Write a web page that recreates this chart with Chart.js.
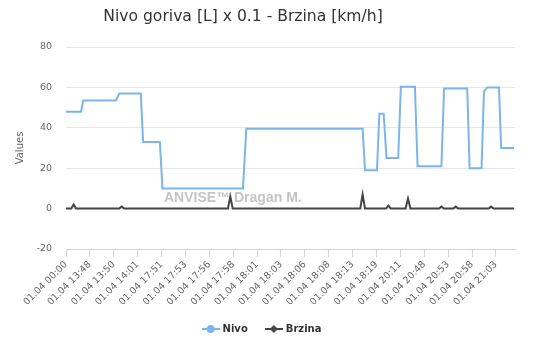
<!DOCTYPE html>
<html>
<head>
<meta charset="utf-8">
<script src="https://cdn.jsdelivr.net/npm/chart.js@4/dist/chart.umd.min.js"></script>
<style>
    html, body { margin: 0; padding: 0; background: #fff; }
</style>
</head>
<body>
<canvas id="chart" width="533" height="356"></canvas>
<script>
// Naslov i vodeni žig
const titleText = 'Nivo goriva [L] x 0.1 - Brzina [km/h]';
const watermarkText = 'ANVISE\u2122 Dragan M.';

// Oznake na x osi (svaka deseta pozicija)
const tickLabels = ['01.04 00:00', '01.04 13:48', '01.04 13:50', '01.04 14:01', '01.04 17:51',
    '01.04 17:53', '01.04 17:56', '01.04 17:58', '01.04 18:01', '01.04 18:03', '01.04 18:06',
    '01.04 18:08', '01.04 18:13', '01.04 18:19', '01.04 20:11', '01.04 20:48', '01.04 20:53',
    '01.04 20:58', '01.04 21:03'];

// Nivo goriva - pozicije i vrijednosti (očitano sa slike)
const nivoX = [0, 6.3, 7.2, 20.9, 22.3, 31.3, 32.3, 39.3, 40.4, 74.1, 75.5, 124.2, 125.2, 130.2, 131.2,
    133, 134.2, 139.1, 140.2, 146.1, 147.2, 157.2, 158.3, 168, 169, 174, 175, 176.4, 181.3, 182.2, 187.6];
const nivoY = [48, 48, 53.5, 53.5, 57, 57, 33, 33, 10, 10, 39.5, 39.5, 19, 19, 47,
    47, 25, 25, 60.3, 60.3, 21, 21, 59.5, 59.5, 20, 20, 58, 60, 60, 30, 30];

// Brzina - pozicije i vrijednosti
const brzinaX = [0, 2.2, 3.2, 4.2, 22.3, 23.3, 24.3, 67.8, 68.8, 69.8, 123.2, 124.2, 125.2,
    134, 135, 136, 142.2, 143.2, 144.2, 156.2, 157.2, 158.2, 162.2, 163.2, 164.2, 177, 178, 179, 187.6];
const brzinaY = [0, 0, 2, 0, 0, 1, 0, 0, 6, 0, 0, 7, 0,
    0, 1.5, 0, 0, 5, 0, 0, 1, 0, 0, 1, 0, 0, 1, 0, 0];

const NIVO_COLOR = '#7cb5ec';
const BRZINA_COLOR = '#434348';

function toPoints(xs, ys) {
    return xs.map((x, i) => ({ x: x, y: ys[i] }));
}

// Ikonice za legendu (linija + marker)
function legendIcon(color, shape) {
    const c = document.createElement('canvas');
    c.width = 18; c.height = 10;
    const g = c.getContext('2d');
    g.strokeStyle = color; g.lineWidth = 2;
    g.beginPath(); g.moveTo(0, 5); g.lineTo(18, 5); g.stroke();
    g.fillStyle = color;
    g.beginPath();
    if (shape === 'circle') {
        g.arc(9, 5, 4, 0, Math.PI * 2);
    } else {
        g.moveTo(9, 1); g.lineTo(13, 5); g.lineTo(9, 9); g.lineTo(5, 5); g.closePath();
    }
    g.fill();
    return c;
}
const icons = [legendIcon(NIVO_COLOR, 'circle'), legendIcon(BRZINA_COLOR, 'diamond')];

const titlePlugin = {
    id: 'titleText',
    afterDraw(chart) {
        const ctx = chart.ctx;
        ctx.save();
        ctx.font = '15.6px "DejaVu Sans"';
        ctx.fillStyle = '#333333';
        ctx.textAlign = 'center';
        ctx.textBaseline = 'alphabetic';
        ctx.fillText(titleText, 243, 21);
        ctx.restore();
    }
};

const watermarkPlugin = {
    id: 'watermark',
    beforeDatasetsDraw(chart) {
        const ctx = chart.ctx;
        ctx.save();
        ctx.font = 'bold 14px "Liberation Sans"';
        ctx.fillStyle = '#c4c4c4';
        ctx.textAlign = 'left';
        ctx.textBaseline = 'alphabetic';
        ctx.fillText(watermarkText, 164, 202);
        ctx.restore();
    }
};

new Chart(document.getElementById('chart'), {
    type: 'line',
    data: {
        datasets: [
            { label: 'Nivo', data: toPoints(nivoX, nivoY), borderColor: NIVO_COLOR, backgroundColor: NIVO_COLOR,
              borderWidth: 2, pointRadius: 0, tension: 0 },
            { label: 'Brzina', data: toPoints(brzinaX, brzinaY), borderColor: BRZINA_COLOR, backgroundColor: BRZINA_COLOR,
              borderWidth: 2, pointRadius: 0, tension: 0 }
        ]
    },
    options: {
        responsive: false,
        animation: false,
        layout: { padding: { left: 10, right: 18, top: 47, bottom: 12 } },
        plugins: {
            title: { display: false },
            tooltip: { enabled: false },
            legend: {
                position: 'bottom',
                labels: {
                    usePointStyle: true,
                    pointStyleWidth: 14,
                    boxHeight: 10,
                    padding: 19,
                    color: '#333333',
                    font: { family: 'DejaVu Sans', size: 10, weight: 'bold' },
                    generateLabels: (chart) => chart.data.datasets.map((ds, i) => ({
                        text: ds.label,
                        pointStyle: icons[i],
                        fillStyle: ds.borderColor,
                        strokeStyle: ds.borderColor,
                        lineWidth: 0,
                        fontColor: '#333333',
                        hidden: false,
                        datasetIndex: i
                    }))
                }
            }
        },
        scales: {
            x: {
                type: 'linear',
                min: 0,
                max: 188,
                afterBuildTicks: (scale) => {
                    scale.ticks = scale.ticks.filter(t => t.value % 10 === 0);
                },
                afterFit: (scale) => { scale.height = 56; },
                grid: { drawOnChartArea: false, drawTicks: true, tickLength: 8, color: '#ccd6eb' },
                border: { color: '#ccd6eb', width: 1 },
                ticks: {
                    stepSize: 10,
                    autoSkip: false,
                    maxRotation: 45,
                    minRotation: 45,
                    padding: 2,
                    color: '#666666',
                    font: { family: 'DejaVu Sans', size: 9.5 },
                    callback: (value) => tickLabels[value / 10] || ''
                }
            },
            y: {
                min: -20,
                max: 80,
                afterFit: (scale) => { scale.width = 56; },
                grid: { color: '#e6e6e6', drawTicks: false },
                border: { display: false },
                ticks: {
                    stepSize: 20,
                    padding: 14,
                    color: '#666666',
                    font: { family: 'DejaVu Sans', size: 9.5 }
                },
                title: {
                    display: true,
                    text: 'Values',
                    color: '#666666',
                    font: { family: 'DejaVu Sans', size: 10 },
                    padding: { top: 4, bottom: 0 }
                }
            }
        }
    },
    plugins: [titlePlugin, watermarkPlugin]
});
</script>
</body>
</html>
